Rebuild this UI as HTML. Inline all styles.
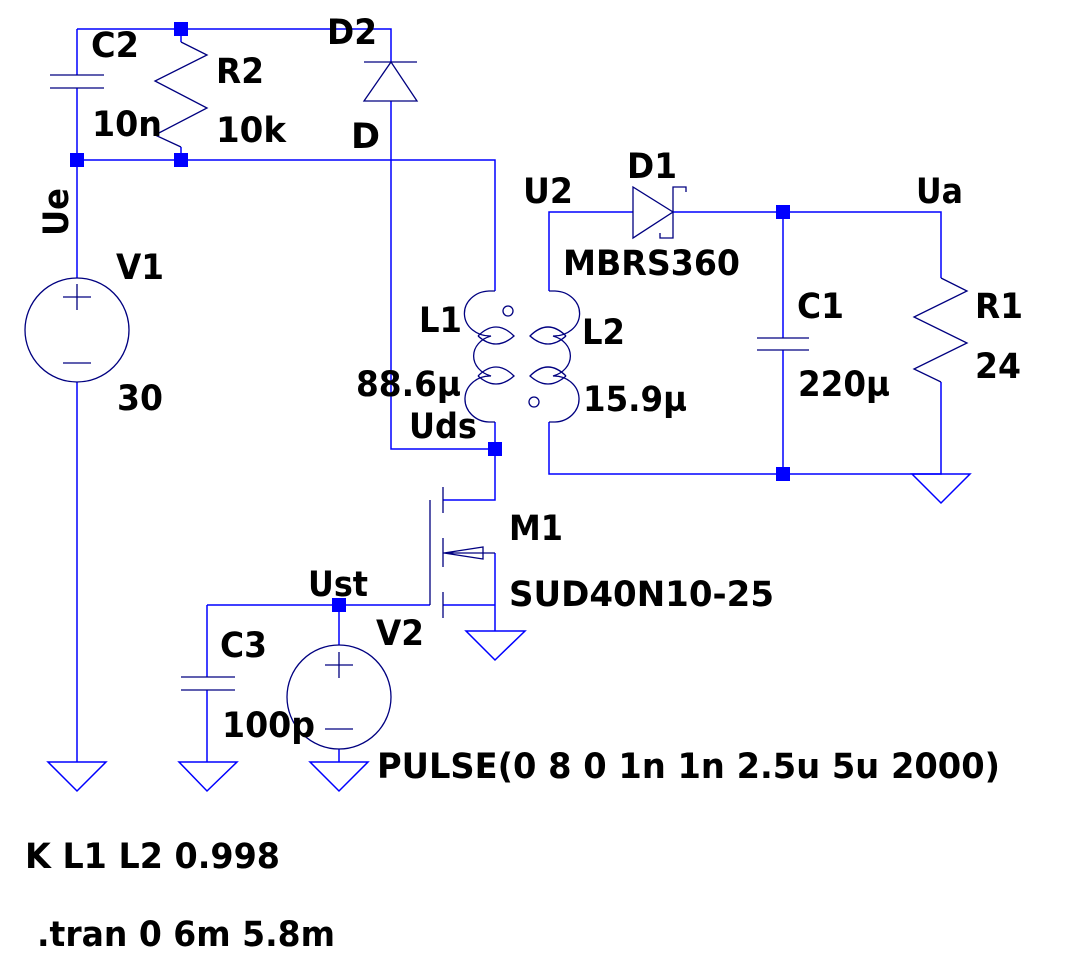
<!DOCTYPE html>
<html><head><meta charset="utf-8"><style>
html,body{margin:0;padding:0;background:#fff;}
svg{display:block;}
text{font-family:"DejaVu Sans","Liberation Sans",sans-serif;font-weight:bold;font-size:35px;fill:#000;}
.w{stroke:#0000ff;stroke-width:1.5;fill:none;}
.s{stroke:#000080;stroke-width:1.3;fill:none;}
.j{fill:#0000ff;}
</style></head><body>
<svg width="1065" height="964" viewBox="0 0 1065 964" xmlns="http://www.w3.org/2000/svg">
<path class="w" d="M77,29 H391 V62 M77,29 V75 M77,88 V278 M77,382 V762 M181,29 V42 M181,147 V160 M77,160 H495 V291 M391,101 V449 H495 M495,422 V500 H443 M549,291 V212 H633 M673,212 H941 V278 M941,382 V474 H549 V422 M783,212 V338 M783,350 V474 M495,553 V605 H443 M495,605 V631 M207,605 H430 M207,605 V677 M207,690 V762 M339,605 V645 M339,749 V762"/>
<path class="s" d="M50,75 H104 M50,88 H104"/>
<path class="s" d="M181,42 L207,55 L155,81 L207,108 L155,135 L181,147"/>
<path class="s" d="M364,62 H417 M391,62 L364,101 H417 Z"/>
<circle class="s" cx="77" cy="330" r="52"/>
<path class="s" d="M63,297 H91 M77,284 V310 M63,363 H91"/>
<path class="s" d="M495,291 H489 A25,22 0 0 0 491,336 A25,21 0 0 0 491,376 A25,23 0 0 0 489,422 H495"/>
<path class="s" d="M478,336 Q496,318 514,336 Q496,352 478,336 M478,376 Q496,358 514,376 Q496,392 478,376"/>
<circle class="s" cx="508" cy="311" r="5"/>
<path class="s" d="M549,291 H555 A25,22 0 0 1 553,336 A25,21 0 0 1 553,376 A25,23 0 0 1 555,422 H549"/>
<path class="s" d="M566,336 Q548,318 530,336 Q548,352 566,336 M566,376 Q548,358 530,376 Q548,392 566,376"/>
<circle class="s" cx="534" cy="402" r="5"/>
<path class="s" d="M633,187 V238 L673,212 Z M686,192 V187 H673 V238 H660 V233"/>
<path class="s" d="M757,338 H809 M757,350 H809"/>
<path class="s" d="M941,278 L967,291 L914,317 L967,343 L914,369 L941,382"/>
<path class="s" d="M443,487 V513 M443,538 V567 M443,592 V618 M430,500 V605 M443,553 H495 M444,553 L483,547 L483,559 Z"/>
<path class="s" d="M181,677 H235 M181,690 H235"/>
<circle class="s" cx="339" cy="697" r="52"/>
<path class="s" d="M325,665 H353 M339,652 V678 M325,729 H353"/>
<path class="w" d="M466,631 H525 L495,660 Z M912,474 H970 L941,503 Z M48,762 H106 L77,791 Z M179,762 H237 L207,791 Z M310,762 H368 L339,791 Z"/>
<rect class="j" x="174" y="22" width="14" height="14"/>
<rect class="j" x="70" y="153" width="14" height="14"/>
<rect class="j" x="174" y="153" width="14" height="14"/>
<rect class="j" x="488" y="442" width="14" height="14"/>
<rect class="j" x="776" y="205" width="14" height="14"/>
<rect class="j" x="776" y="467" width="14" height="14"/>
<rect class="j" x="332" y="598" width="14" height="14"/>
<text x="91" y="57" textLength="48" lengthAdjust="spacingAndGlyphs">C2</text>
<text x="216" y="83" textLength="48" lengthAdjust="spacingAndGlyphs">R2</text>
<text x="327" y="44" textLength="50" lengthAdjust="spacingAndGlyphs">D2</text>
<text x="92" y="136" textLength="70" lengthAdjust="spacingAndGlyphs">10n</text>
<text x="216" y="142" textLength="70" lengthAdjust="spacingAndGlyphs">10k</text>
<text x="351" y="148">D</text>
<text transform="translate(68,236) rotate(-90)" textLength="48" lengthAdjust="spacingAndGlyphs">Ue</text>
<text x="116" y="279" textLength="48" lengthAdjust="spacingAndGlyphs">V1</text>
<text x="117" y="410" textLength="46" lengthAdjust="spacingAndGlyphs">30</text>
<text x="419" y="332" textLength="43" lengthAdjust="spacingAndGlyphs">L1</text>
<text x="356" y="396" textLength="105" lengthAdjust="spacingAndGlyphs">88.6µ</text>
<text x="409" y="438" textLength="68" lengthAdjust="spacingAndGlyphs">Uds</text>
<text x="523" y="203" textLength="50" lengthAdjust="spacingAndGlyphs">U2</text>
<text x="627" y="178" textLength="50" lengthAdjust="spacingAndGlyphs">D1</text>
<text x="916" y="203" textLength="47" lengthAdjust="spacingAndGlyphs">Ua</text>
<text x="563" y="275" textLength="177" lengthAdjust="spacingAndGlyphs">MBRS360</text>
<text x="797" y="318" textLength="47" lengthAdjust="spacingAndGlyphs">C1</text>
<text x="798" y="396" textLength="92" lengthAdjust="spacingAndGlyphs">220µ</text>
<text x="975" y="318" textLength="48" lengthAdjust="spacingAndGlyphs">R1</text>
<text x="975" y="378" textLength="46" lengthAdjust="spacingAndGlyphs">24</text>
<text x="582" y="344" textLength="43" lengthAdjust="spacingAndGlyphs">L2</text>
<text x="583" y="411" textLength="104" lengthAdjust="spacingAndGlyphs">15.9µ</text>
<text x="509" y="540" textLength="54" lengthAdjust="spacingAndGlyphs">M1</text>
<text x="509" y="606" textLength="265" lengthAdjust="spacingAndGlyphs">SUD40N10-25</text>
<text x="308" y="596" textLength="60" lengthAdjust="spacingAndGlyphs">Ust</text>
<text x="376" y="645" textLength="48" lengthAdjust="spacingAndGlyphs">V2</text>
<text x="220" y="657" textLength="47" lengthAdjust="spacingAndGlyphs">C3</text>
<text x="222" y="737" textLength="93" lengthAdjust="spacingAndGlyphs">100p</text>
<text x="377" y="778" textLength="623" lengthAdjust="spacingAndGlyphs">PULSE(0 8 0 1n 1n 2.5u 5u 2000)</text>
<text x="25" y="868" textLength="255" lengthAdjust="spacingAndGlyphs">K L1 L2 0.998</text>
<text x="37" y="946" textLength="298" lengthAdjust="spacingAndGlyphs">.tran 0 6m 5.8m</text>
</svg>
</body></html>
